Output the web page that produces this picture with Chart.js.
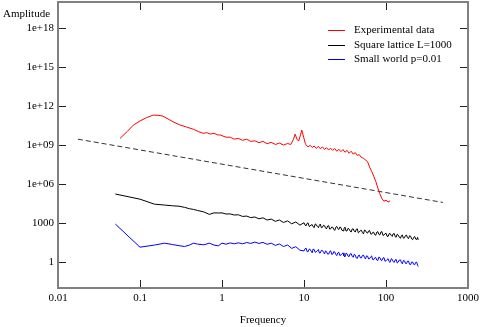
<!DOCTYPE html>
<html>
<head>
<meta charset="utf-8">
<script src="https://cdn.jsdelivr.net/npm/chart.js@4.4.1/dist/chart.umd.min.js"></script>
<style>
  html, body { margin: 0; padding: 0; background: #fff; }
  #chart { display: block; }
</style>
</head>
<body>
<canvas id="chart" width="480" height="327"></canvas>
<script>
// --- Axis ticks ---
const xTickVals = [0.01, 0.1, 1, 10, 100, 1000];
const xTickLabels = ['0.01', '0.1', '1', '10', '100', '1000'];
const yTickVals = [1, 1e3, 1e6, 1e9, 1e12, 1e15, 1e18];
const yTickLabels = ['1', '1000', '1e+06', '1e+09', '1e+12', '1e+15', '1e+18'];

// --- Experimental data (red) ---
const expFreq = [
  0.057, 0.07, 0.083, 0.1, 0.12, 0.145, 0.17, 0.19, 0.22, 0.26, 0.31, 0.37, 0.45, 0.52, 0.59, 0.65, 0.72, 0.8, 0.88, 0.95,
  1, 1.12, 1.26, 1.41, 1.58, 1.78, 2, 2.24, 2.51, 2.82, 3.16, 3.55, 3.98, 4.47, 5.01, 5.62, 6.31, 6.9, 7.4, 7.8, 8.2, 8.6, 9.0, 9.4, 9.9, 10.4,
  10.6, 11.2, 11.9, 12.6, 13.3, 14.1, 15, 15.8, 16.8, 17.8, 18.8, 20, 21.1, 22.4, 23.7, 25.1, 26.6, 28.2, 29.9, 31.6,
  33.5, 35.5, 37.6, 39.8, 42.2, 44.7, 47.3, 50.1, 53.1, 56.2, 59.6, 63.1, 66.8, 70.8, 75, 79.4, 84.1, 89.1, 94.4, 100, 106, 112
];
const expAmp = [
  3.2e9, 1.1e10, 3.4e10, 7.1e10, 1.26e11, 2.0e11, 1.9e11, 1.66e11, 1.0e11, 5.6e10, 3.4e10, 2.4e10, 1.6e10, 1.05e10, 7.9e9, 8.9e9, 6.9e9, 7.9e9, 6.0e9, 5.9e9,
  5.2e9, 4.0e9, 4.0e9, 2.8e9, 3.2e9, 2.3e9, 2.8e9, 1.9e9, 2.1e9, 1.5e9, 1.9e9, 1.26e9, 1.6e9, 1.1e9, 1.4e9, 1.0e9, 1.3e9, 1.1e9, 2.5e9, 6.9e9, 2.8e9, 2.0e9, 5.0e9, 1.4e10, 4.0e9, 1.26e9,
  1.02e9, 7.1e8, 9.5e8, 6.5e8, 8.3e8, 5.5e8, 7.8e8, 5.1e8, 7.1e8, 4.6e8, 6.2e8, 4.1e8, 5.8e8, 3.8e8, 5.4e8, 3.3e8, 4.7e8, 3.1e8, 4.5e8, 2.75e8,
  3.9e8, 2.3e8, 3.3e8, 2.0e8, 2.6e8, 1.6e8, 1.8e8, 1.1e8, 9.5e7, 7.1e7, 5.2e7, 2.0e7, 9.5e6, 4.0e6, 1.6e6, 5.0e5, 1.8e5, 7.4e4, 4.8e4, 5.6e4, 4.2e4, 5.0e4
];

// --- Simulations (black & blue share frequencies) ---
const simFreq = [
  0.05, 0.1, 0.15, 0.2, 0.25, 0.3, 0.35, 0.4, 0.45, 0.5, 0.6, 0.7, 0.8, 0.9,
  1, 1.12, 1.26, 1.41, 1.58, 1.78, 2, 2.24, 2.51, 2.82, 3.16, 3.55, 3.98, 4.47, 5.01, 5.62, 6.31, 7.08, 7.94, 8.91,
  10, 10.3, 10.6, 10.9, 11.2, 11.6, 11.9, 12.2, 12.6, 12.9, 13.3, 13.7, 14.1, 14.5, 15, 15.4, 15.8, 16.3, 16.8, 17.3,
  17.8, 18.3, 18.8, 19.4, 20, 20.5, 21.1, 21.8, 22.4, 23.1, 23.7, 24.4, 25.1, 25.9, 26.6, 27.4, 28.2, 29.0, 29.9, 30.7,
  31.6, 32.6, 33.5, 34.5, 35.5, 36.5, 37.6, 38.7, 39.8, 41.0, 42.2, 43.4, 44.7, 46.0, 47.3, 48.7, 50.1, 51.6, 53.1, 54.7,
  56.2, 57.9, 59.6, 61.4, 63.1, 65.0, 66.8, 68.9, 70.8, 72.9, 75, 77.3, 79.4, 81.8, 84.1, 86.7, 89.1, 91.8, 94.4, 97.3,
  100, 103, 106, 109, 112, 116, 119, 122, 126, 130, 133, 137, 141, 145, 150, 154, 158, 163, 168, 173,
  178, 183, 188, 194, 200, 205, 211, 218, 224, 230, 237, 243, 247
];
const latticeAmp = [
  1.7e5, 6.8e4, 2.8e4, 2.4e4, 2.1e4, 1.95e4, 1.6e4, 1.26e4, 1.1e4, 9.3e3, 7.1e3, 4.6e3, 6.0e3, 5.9e3,
  6.0e3, 4.9e3, 5.0e3, 4.1e3, 4.3e3, 3.2e3, 3.4e3, 2.6e3, 2.9e3, 2.1e3, 2.5e3, 1.7e3, 2.0e3, 1.35e3, 1.7e3, 1.1e3, 1.45e3, 870, 1.2e3, 690,
  1050, 692, 603, 933, 1020, 537, 575, 708, 741, 525, 437, 851, 759, 550, 437, 676, 832, 427, 468, 676,
  617, 437, 347, 589, 631, 339, 355, 490, 468, 324, 269, 468, 550, 363, 316, 490, 447, 275, 251, 363,
  479, 240, 251, 389, 339, 245, 200, 347, 355, 240, 200, 331, 355, 174, 204, 263, 275, 182, 145, 288,
  269, 182, 166, 245, 263, 145, 138, 191, 195, 126, 115, 200, 214, 135, 120, 204, 219, 112, 117, 151,
  166, 98, 91, 148, 158, 110, 93, 145, 155, 87, 81, 138, 117, 83, 66, 107, 120, 68, 72, 110,
  117, 74, 62, 105, 95, 60, 52, 79, 91, 58, 54, 78, 50
];
const smallWorldAmp = [
  830, 13.8, 20, 28, 22, 18, 15.5, 20, 28, 24, 21, 28, 20, 17.4,
  28, 23.4, 29.5, 25, 30, 25, 31.6, 27, 34, 27, 32, 23, 28, 19, 24.5, 15.5, 20.4, 11.2, 15, 8.1,
  7.1, 10.5, 11.7, 6.3, 6.2, 10, 9.3, 6.9, 5.1, 9.8, 9.1, 5.6, 6.0, 7.4, 9.1, 4.9, 5.0, 7.9, 7.8, 5.5,
  4.2, 7.1, 6.3, 4.0, 4.1, 6.0, 7.4, 3.9, 4.0, 6.5, 5.8, 3.9, 3.1, 5.2, 5.6, 3.1, 3.5, 4.3, 5.0, 2.95,
  2.45, 4.8, 4.3, 2.8, 2.6, 4.2, 4.4, 2.75, 2.3, 3.9, 3.4, 2.05, 1.9, 3.1, 3.4, 2.1, 2.05, 3.2, 3.4, 2.2,
  1.7, 3.0, 2.8, 1.7, 1.8, 2.5, 2.95, 1.5, 1.5, 2.1, 2.2, 1.4, 1.3, 2.4, 2.2, 1.4, 1.3, 2.0, 2.2, 1.15,
  1.23, 1.55, 1.8, 1.1, 0.93, 1.8, 1.6, 1.1, 0.93, 1.5, 1.6, 0.83, 0.98, 1.4, 1.45, 0.93, 0.72, 1.3, 1.23, 0.78,
  0.76, 1.17, 1.2, 0.66, 0.63, 0.98, 1.0, 0.65, 0.62, 0.93, 0.95, 0.56, 0.45
];

// --- Dashed power-law guide ---
const fitFreq = [0.0175, 495];
const fitAmp = [2.8e9, 3.8e4];

function toPoints(xs, ys) {
  return xs.map((x, i) => ({ x: x, y: ys[i] }));
}

const SERIF = '"Liberation Serif", "Times New Roman", serif';

// frame, inward ticks, legend and the y label drawn on top of the chart
const framePlugin = {
  id: 'frame',
  afterDatasetsDraw(chart) {
    const { ctx, chartArea: a, scales } = chart;
    const xs = scales.x, ys = scales.y;
    const tick = 8;
    ctx.save();
    ctx.strokeStyle = '#222';
    ctx.lineWidth = 1;
    ctx.beginPath();
    xTickVals.forEach(v => {
      const px = Math.round(xs.getPixelForValue(v)) + 0.5;
      ctx.moveTo(px, a.bottom); ctx.lineTo(px, a.bottom - tick);
      ctx.moveTo(px, a.top); ctx.lineTo(px, a.top + tick);
    });
    yTickVals.forEach(v => {
      const py = Math.round(ys.getPixelForValue(v)) + 0.5;
      ctx.moveTo(a.left, py); ctx.lineTo(a.left + tick, py);
      ctx.moveTo(a.right, py); ctx.lineTo(a.right - tick, py);
    });
    ctx.stroke();

    ctx.strokeStyle = '#808080';
    ctx.lineWidth = 2;
    ctx.strokeRect(a.left, a.top, a.right - a.left, a.bottom - a.top);

    ctx.font = '11px ' + SERIF;
    ctx.fillStyle = '#000';
    ctx.textBaseline = 'middle';
    ctx.textAlign = 'left';
    ctx.fillText('Amplitude', 3, 14);

    // legend
    let row = 0;
    chart.data.datasets.forEach(ds => {
      if (!ds.label) return;
      const yy = Math.round(a.top + 28 + row * 14.5) + 0.5;
      ctx.strokeStyle = ds.borderColor;
      ctx.lineWidth = 1;
      ctx.setLineDash([]);
      ctx.beginPath();
      ctx.moveTo(a.right - 140, yy);
      ctx.lineTo(a.right - 123, yy);
      ctx.stroke();
      ctx.fillStyle = '#000';
      ctx.fillText(ds.label, a.right - 114, yy);
      row++;
    });
    ctx.restore();
  }
};

new Chart(document.getElementById('chart'), {
  type: 'line',
  data: {
    datasets: [
      { label: 'Experimental data', data: toPoints(expFreq, expAmp), borderColor: '#ff0000', borderWidth: 1 },
      { label: 'Square lattice L=1000', data: toPoints(simFreq, latticeAmp), borderColor: '#000000', borderWidth: 1 },
      { label: 'Small world p=0.01', data: toPoints(simFreq, smallWorldAmp), borderColor: '#0000ff', borderWidth: 1 },
      { label: '', data: toPoints(fitFreq, fitAmp), borderColor: '#333333', borderWidth: 1, borderDash: [5, 3] }
    ]
  },
  options: {
    responsive: false,
    animation: false,
    layout: { padding: { left: 0, right: 12, top: 2, bottom: 0 } },
    elements: { point: { radius: 0 }, line: { tension: 0 } },
    plugins: { legend: { display: false }, tooltip: { enabled: false } },
    scales: {
      x: {
        type: 'logarithmic',
        min: 0.01,
        max: 1000,
        grid: { display: false, drawTicks: false },
        border: { display: false },
        afterBuildTicks: s => { s.ticks = xTickVals.map(v => ({ value: v })); },
        afterFit: s => { s.height = 39; s.paddingLeft = 0; s.paddingRight = 0; },
        ticks: {
          autoSkip: false, maxRotation: 0, padding: 4, color: '#000',
          font: { family: SERIF, size: 11 },
          callback: (v, i) => xTickLabels[i]
        },
        title: { display: true, text: 'Frequency', color: '#000', font: { family: SERIF, size: 11 }, padding: { top: 0, bottom: 0 } }
      },
      y: {
        type: 'logarithmic',
        min: 0.01,
        max: 1e20,
        grid: { display: false, drawTicks: false },
        border: { display: false },
        afterBuildTicks: s => { s.ticks = yTickVals.map(v => ({ value: v })); },
        afterFit: s => { s.width = 58; s.paddingTop = 0; s.paddingBottom = 0; },
        ticks: {
          autoSkip: false, padding: 4, color: '#000',
          font: { family: SERIF, size: 11 },
          callback: (v, i) => yTickLabels[i]
        }
      }
    }
  },
  plugins: [framePlugin]
});
</script>
</body>
</html>
